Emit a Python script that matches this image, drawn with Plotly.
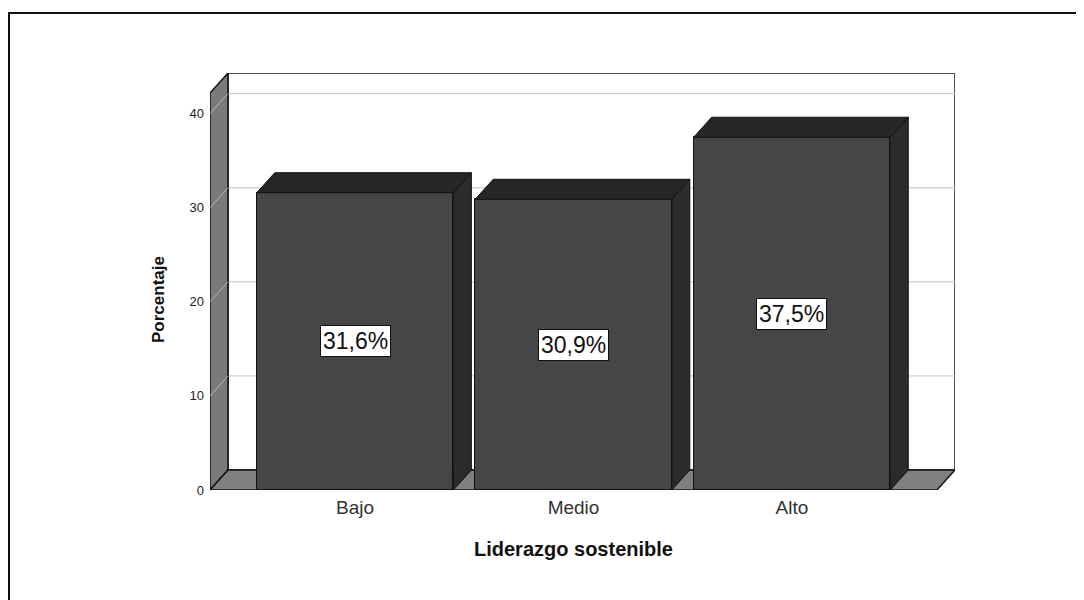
import plotly.graph_objects as go

# ---- data ----
categories = ["Bajo", "Medio", "Alto"]
percent = [31.6, 30.9, 37.5]
labels = ["31,6%", "30,9%", "37,5%"]
y_ticks = [0, 10, 20, 30, 40]

# ---- geometry (3D look) ----
W = 0.9              # bar width
DX = 18 / 218.5      # depth offset in x units
DY = 20 / 9.4        # depth offset in y units
X0, X1 = -0.664, 2.664   # front floor extent
YTOP = 42.2              # front top of side wall
xr = [X0, X1 + DX]
yr = [0, YTOP + DY]

FRONT = "#454648"
TOP = "#262626"
SIDE = "#2a2c2b"
WALL = "#7a7a7a"
FLOOR = "#808080"
FONT = "Arial, Liberation Sans"

OFF = 8  # page body margin
FW, FH = 1084 - OFF, 600 - OFF

fig = go.Figure()

shapes = []
# back wall
shapes.append(dict(type="rect", xref="x", yref="y", x0=X0 + DX, x1=X1 + DX, y0=DY, y1=YTOP + DY,
                   fillcolor="white", line=dict(color="#1a1a1a", width=1.5), layer="below"))
# gridlines on back wall and side wall
for t in y_ticks[1:]:
    shapes.append(dict(type="line", xref="x", yref="y", x0=X0 + DX, x1=X1 + DX, y0=t + DY, y1=t + DY,
                       line=dict(color="#c4c4c4", width=1), layer="below"))
# left wall
shapes.append(dict(type="path", xref="x", yref="y",
                   path=f"M {X0},0 L {X0},{YTOP} L {X0+DX},{YTOP+DY} L {X0+DX},{DY} Z",
                   fillcolor=WALL, line=dict(color="#111", width=1.5), layer="below"))
for t in y_ticks[1:]:
    shapes.append(dict(type="line", xref="x", yref="y", x0=X0, x1=X0 + DX, y0=t, y1=t + DY,
                       line=dict(color="#b8b8b8", width=1), layer="below"))
# floor
shapes.append(dict(type="path", xref="x", yref="y",
                   path=f"M {X0},0 L {X1},0 L {X1+DX},{DY} L {X0+DX},{DY} Z",
                   fillcolor=FLOOR, line=dict(color="#111", width=1.5), layer="below"))
# outer frame
px0, pw, py0, ph = 210 - OFF, 745, 490 - OFF, 417
shapes.append(dict(type="rect", xref="paper", yref="paper",
                   x0=(9 - OFF - px0) / pw, x1=(1100 - px0) / pw,
                   y0=(py0 - 620) / ph, y1=(py0 - (13 - OFF)) / ph,
                   line=dict(color="#111", width=2), fillcolor="rgba(0,0,0,0)"))

# bars (front faces)
xs = list(range(len(categories)))
fig.add_trace(go.Bar(x=xs, y=percent, width=W, marker=dict(color=FRONT, line=dict(color="#111", width=1)),
                     hoverinfo="skip", showlegend=False))

# top and side faces
for x, v in zip(xs, percent):
    l, r = x - W / 2, x + W / 2
    fig.add_trace(go.Scatter(x=[l, r, r + DX, l + DX, l], y=[v, v, v + DY, v + DY, v], mode="lines",
                             fill="toself", fillcolor=TOP, line=dict(color="#111", width=1),
                             hoverinfo="skip", showlegend=False))
    fig.add_trace(go.Scatter(x=[r, r + DX, r + DX, r, r], y=[0, DY, v + DY, v, 0], mode="lines",
                             fill="toself", fillcolor=SIDE, line=dict(color="#111", width=1),
                             hoverinfo="skip", showlegend=False))

annotations = []
for x, v, t in zip(xs, percent, labels):
    annotations.append(dict(x=x, y=v / 2, xref="x", yref="y", text=t, showarrow=False,
                            font=dict(family=FONT, size=23, color="#111"),
                            bgcolor="white", bordercolor="#111", borderwidth=1, borderpad=2))
annotations.append(dict(x=(158 - OFF - px0) / pw, y=(py0 - (300 - OFF)) / ph, xref="paper", yref="paper",
                        xanchor="center", yanchor="middle",
                        text="<b>Porcentaje</b>", textangle=-90, showarrow=False,
                        font=dict(family=FONT, size=17, color="#111")))
annotations.append(dict(x=(573 - OFF - px0) / pw, y=(py0 - (549 - OFF)) / ph, xref="paper", yref="paper",
                        xanchor="center", yanchor="middle",
                        text="<b>Liderazgo sostenible</b>", showarrow=False,
                        font=dict(family=FONT, size=20, color="#111")))

fig.update_layout(
    width=FW, height=FH,
    margin=dict(l=px0, r=FW - (955 - OFF), t=73 - OFF, b=FH - py0),
    paper_bgcolor="white", plot_bgcolor="rgba(0,0,0,0)",
    shapes=shapes, annotations=annotations, bargap=0,
    font=dict(family=FONT, color="#222"),
    xaxis=dict(range=xr, tickvals=xs, ticktext=categories, showgrid=False, zeroline=False,
               showline=False, ticks="", tickfont=dict(size=19, color="#333"), ticklabelstandoff=4),
    yaxis=dict(range=yr, tickvals=y_ticks, showgrid=False, zeroline=False, showline=False,
               ticks="", tickfont=dict(size=13, color="#222"), ticklabelstandoff=5),
)

fig.write_html("out.html")
